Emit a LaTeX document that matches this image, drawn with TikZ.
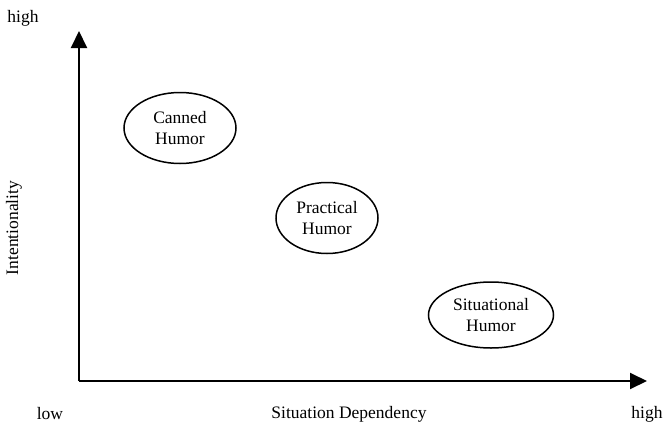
\documentclass[tikz,border=0pt]{standalone}
\usepackage{fontspec}
\setmainfont{Liberation Serif}
\usetikzlibrary{shapes.geometric,arrows.meta}
\begin{document}
\begin{tikzpicture}[x=1pt,y=-1pt,
  axis/.style={line width=2pt,-{Triangle[length=17pt,width=16pt]}},
  humor/.style={draw,ellipse,line width=1.5pt,inner sep=0pt,align=center,font=\fontsize{17.5}{21.5}\selectfont},
  lbl/.style={font=\fontsize{17.5}{21.5}\selectfont,inner sep=0pt}]
\useasboundingbox (0,0) rectangle (665,429);
% axes
\coordinate (origin) at (79,381);
\coordinate (ytip) at (79,31);
\coordinate (xtip) at (647,381);
\draw[axis] (origin) -- (ytip);
\draw[axis] (origin) -- (xtip);
% axis labels
\node[lbl] (yhigh) at (23,18) {high};
\node[lbl,rotate=90] (ylabel) at (14,228) {Intentionality};
\node[lbl] (xlow) at (50,414) {low};
\node[lbl] (xlabel) at (349,414) {Situation Dependency};
\node[lbl] (xhigh) at (647,414) {high};
% humor categories
\node[humor,minimum width=112pt,minimum height=71pt] (canned) at (180,128) {Canned\\Humor};
\node[humor,minimum width=102pt,minimum height=71pt] (practical) at (327,218) {Practical\\Humor};
\node[humor,minimum width=125pt,minimum height=66pt] (situational) at (491,315) {Situational\\Humor};
\end{tikzpicture}
\end{document}
